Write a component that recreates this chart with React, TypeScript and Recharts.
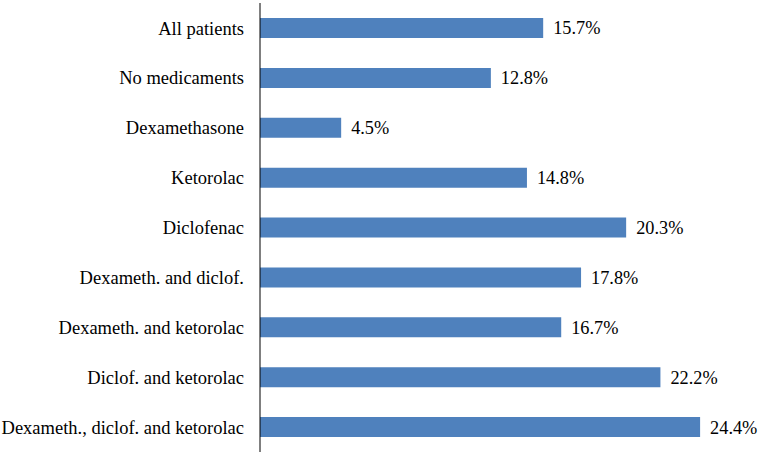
import { BarChart, Bar, XAxis, YAxis, LabelList } from 'recharts';

const groups = [
  'All patients',
  'No medicaments',
  'Dexamethasone',
  'Ketorolac',
  'Diclofenac',
  'Dexameth. and diclof.',
  'Dexameth. and ketorolac',
  'Diclof. and ketorolac',
  'Dexameth., diclof. and ketorolac',
];
const rates = [15.7, 12.8, 4.5, 14.8, 20.3, 17.8, 16.7, 22.2, 24.4];

const data = groups.map((name, i) => ({ name, rate: rates[i] }));

const FONT = 'Liberation Serif, Times New Roman, serif';

export default function App() {
  return (
    <div style={{ position: 'absolute', left: 0, top: 0, background: '#fff', fontFamily: FONT }}>
      <BarChart
        width={767}
        height={454}
        data={data}
        layout="vertical"
        margin={{ top: 3, right: 20, bottom: 2, left: 0 }}
        style={{ fontFamily: FONT }}
      >
        <XAxis type="number" domain={[0, 27]} hide />
        <YAxis
          type="category"
          dataKey="name"
          width={260}
          tickLine={false}
          tickSize={0}
          tickMargin={16}
          axisLine={{ stroke: '#000', strokeWidth: 1 }}
          tick={{ fontSize: 18.5, fill: '#000', fontFamily: FONT }}
          interval={0}
        />
        <Bar dataKey="rate" fill="#4F81BD" barSize={20} isAnimationActive={false}>
          <LabelList
            dataKey="rate"
            position="right"
            offset={10}
            formatter={(v: number) => `${v}%`}
            fontSize={18.3}
            fill="#000"
            fontFamily={FONT}
          />
        </Bar>
      </BarChart>
    </div>
  );
}
